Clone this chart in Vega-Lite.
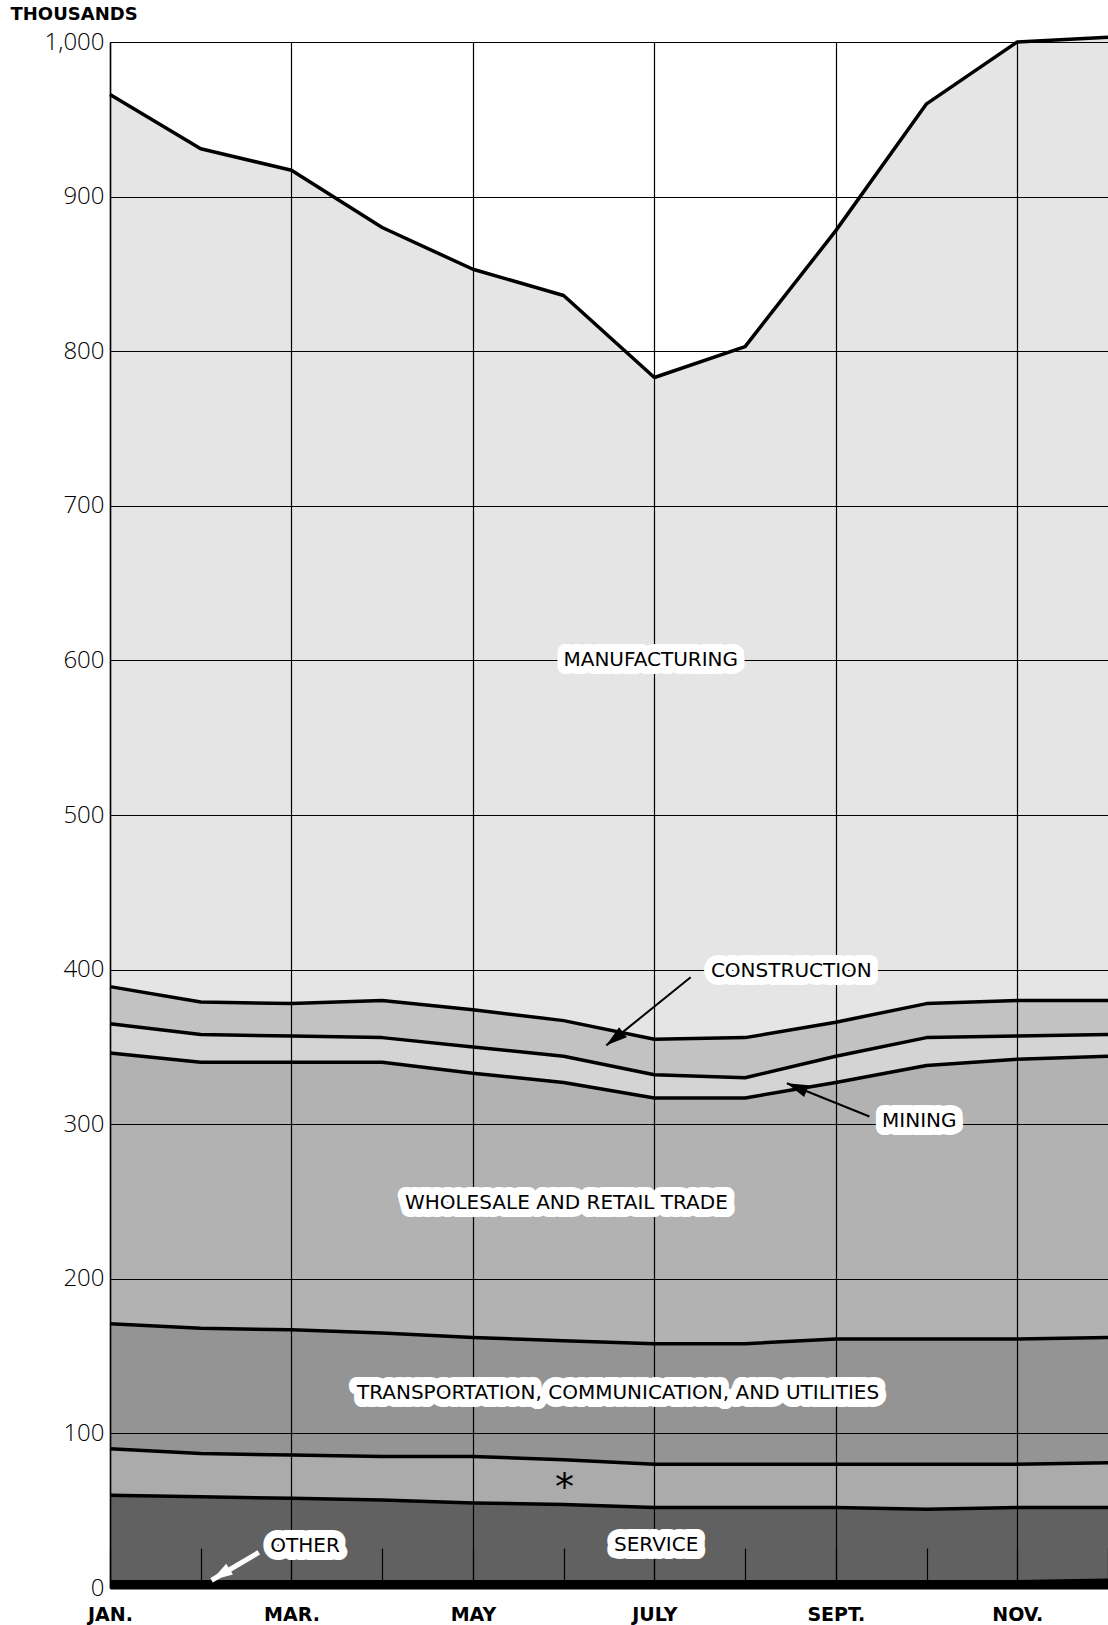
{
"$schema": "https://vega.github.io/schema/vega-lite/v6.json",
"width": 998, "height": 1546,
"autosize": {"type": "none"},
"padding": {"left": 110, "top": 42, "right": 0, "bottom": 37},
"background": "white",
"config": {"view": {"stroke": null}},
"datasets": {
"emp": [
{"m":0,"ind":"Other","v":4},{"m":0,"ind":"Service","v":56},{"m":0,"ind":"*","v":30},{"m":0,"ind":"Transportation","v":81},{"m":0,"ind":"Trade","v":175},{"m":0,"ind":"Mining","v":19},{"m":0,"ind":"Construction","v":24},{"m":0,"ind":"Manufacturing","v":577},
{"m":1,"ind":"Other","v":4},{"m":1,"ind":"Service","v":55},{"m":1,"ind":"*","v":28},{"m":1,"ind":"Transportation","v":81},{"m":1,"ind":"Trade","v":172},{"m":1,"ind":"Mining","v":18},{"m":1,"ind":"Construction","v":21},{"m":1,"ind":"Manufacturing","v":552},
{"m":2,"ind":"Other","v":4},{"m":2,"ind":"Service","v":54},{"m":2,"ind":"*","v":28},{"m":2,"ind":"Transportation","v":81},{"m":2,"ind":"Trade","v":173},{"m":2,"ind":"Mining","v":17},{"m":2,"ind":"Construction","v":21},{"m":2,"ind":"Manufacturing","v":539},
{"m":3,"ind":"Other","v":4},{"m":3,"ind":"Service","v":53},{"m":3,"ind":"*","v":28},{"m":3,"ind":"Transportation","v":80},{"m":3,"ind":"Trade","v":175},{"m":3,"ind":"Mining","v":16},{"m":3,"ind":"Construction","v":24},{"m":3,"ind":"Manufacturing","v":500},
{"m":4,"ind":"Other","v":4},{"m":4,"ind":"Service","v":51},{"m":4,"ind":"*","v":30},{"m":4,"ind":"Transportation","v":77},{"m":4,"ind":"Trade","v":171},{"m":4,"ind":"Mining","v":17},{"m":4,"ind":"Construction","v":24},{"m":4,"ind":"Manufacturing","v":479},
{"m":5,"ind":"Other","v":4},{"m":5,"ind":"Service","v":50},{"m":5,"ind":"*","v":29},{"m":5,"ind":"Transportation","v":77},{"m":5,"ind":"Trade","v":167},{"m":5,"ind":"Mining","v":17},{"m":5,"ind":"Construction","v":23},{"m":5,"ind":"Manufacturing","v":469},
{"m":6,"ind":"Other","v":4},{"m":6,"ind":"Service","v":48},{"m":6,"ind":"*","v":28},{"m":6,"ind":"Transportation","v":78},{"m":6,"ind":"Trade","v":159},{"m":6,"ind":"Mining","v":15},{"m":6,"ind":"Construction","v":23},{"m":6,"ind":"Manufacturing","v":428},
{"m":7,"ind":"Other","v":4},{"m":7,"ind":"Service","v":48},{"m":7,"ind":"*","v":28},{"m":7,"ind":"Transportation","v":78},{"m":7,"ind":"Trade","v":159},{"m":7,"ind":"Mining","v":13},{"m":7,"ind":"Construction","v":26},{"m":7,"ind":"Manufacturing","v":447},
{"m":8,"ind":"Other","v":4},{"m":8,"ind":"Service","v":48},{"m":8,"ind":"*","v":28},{"m":8,"ind":"Transportation","v":81},{"m":8,"ind":"Trade","v":166},{"m":8,"ind":"Mining","v":17},{"m":8,"ind":"Construction","v":22},{"m":8,"ind":"Manufacturing","v":512},
{"m":9,"ind":"Other","v":4},{"m":9,"ind":"Service","v":47},{"m":9,"ind":"*","v":29},{"m":9,"ind":"Transportation","v":81},{"m":9,"ind":"Trade","v":177},{"m":9,"ind":"Mining","v":18},{"m":9,"ind":"Construction","v":22},{"m":9,"ind":"Manufacturing","v":582},
{"m":10,"ind":"Other","v":4},{"m":10,"ind":"Service","v":48},{"m":10,"ind":"*","v":28},{"m":10,"ind":"Transportation","v":81},{"m":10,"ind":"Trade","v":181},{"m":10,"ind":"Mining","v":15},{"m":10,"ind":"Construction","v":23},{"m":10,"ind":"Manufacturing","v":620},
{"m":11,"ind":"Other","v":5},{"m":11,"ind":"Service","v":47},{"m":11,"ind":"*","v":29},{"m":11,"ind":"Transportation","v":81},{"m":11,"ind":"Trade","v":182},{"m":11,"ind":"Mining","v":14},{"m":11,"ind":"Construction","v":22},{"m":11,"ind":"Manufacturing","v":623}
],
"labels": [
{"txt":"MANUFACTURING","m":5.96,"v":600},
{"txt":"CONSTRUCTION","m":7.51,"v":399},
{"txt":"MINING","m":8.92,"v":302},
{"txt":"WHOLESALE AND RETAIL TRADE","m":5.03,"v":249},
{"txt":"TRANSPORTATION, COMMUNICATION, AND UTILITIES","m":5.6,"v":126},
{"txt":"*","m":5.01,"v":64},
{"txt":"SERVICE","m":6.02,"v":28},
{"txt":"OTHER","m":2.15,"v":27}
],
"arrows": [
{"a":"construction","m":6.4,"v":395,"m2":5.47,"v2":351},
{"a":"mining","m":8.37,"v":305,"m2":7.46,"v2":326.5},
{"a":"other","m":1.64,"v":23,"m2":1.12,"v2":5}
]
},
"layer": [
{
"data": {"name": "emp"},
"transform": [{"stack": "v", "groupby": ["m"], "as": ["v0", "v1"]}],
"mark": {"type": "area", "interpolate": "linear"},
"encoding": {
"x": {"field": "m", "type": "quantitative", "scale": {"domain": [0, 11], "nice": false, "zero": false},
 "axis": {"values": [0,1,2,3,4,5,6,7,8,9,10,11],
  "labelExpr": "['JAN.','','MAR.','','MAY','','JULY','','SEPT.','','NOV.',''][datum.value]",
  "title": null, "grid": true, "gridColor": "black", "gridWidth": 1.2,
  "gridOpacity": {"condition": {"test": "datum.value % 2 === 0", "value": 1}, "value": 0},
  "domainColor": "black", "domainWidth": 2, "tickColor": "black", "tickSize": -40, "tickWidth": 1.2,
  "labelFont": "DejaVu Sans", "labelFontWeight": "bold", "labelFontSize": 19, "labelColor": "black",
  "labelPadding": 57, "labelFlush": false, "labelOverlap": false}},
"y": {"field": "v1", "type": "quantitative", "scale": {"domain": [0, 1000], "nice": false},
 "axis": {"values": [0,100,200,300,400,500,600,700,800,900,1000], "format": ",d",
  "title": "THOUSANDS", "titleAngle": 0, "titleX": -100, "titleY": -23, "titleAlign": "left", "titleBaseline": "alphabetic",
  "titleFont": "DejaVu Sans", "titleFontWeight": "bold", "titleFontSize": 18, "titleColor": "black",
  "grid": true, "gridColor": "black", "gridWidth": 1.2, "ticks": false,
  "domainColor": "black", "domainWidth": 1.5,
  "labelFont": "Open Sans", "labelFontWeight": 300, "labelFontSize": 24, "labelColor": "black", "labelPadding": 6, "labelFlush": false}},
"y2": {"field": "v0"},
"color": {"field": "ind", "type": "nominal", "legend": null,
 "scale": {"domain": ["Other","Service","*","Transportation","Trade","Mining","Construction","Manufacturing"],
  "range": ["rgba(0,0,0,1)","rgba(0,0,0,0.62)","rgba(0,0,0,0.33)","rgba(0,0,0,0.42)","rgba(0,0,0,0.3)","rgba(0,0,0,0.17)","rgba(0,0,0,0.24)","rgba(0,0,0,0.1)"]}}
}
},
{
"data": {"name": "emp"},
"transform": [{"stack": "v", "groupby": ["m"], "as": ["v0", "v1"]}],
"mark": {"type": "line", "color": "black", "strokeWidth": 3.5, "strokeJoin": "round"},
"encoding": {
"x": {"field": "m", "type": "quantitative"},
"y": {"field": "v1", "type": "quantitative"},
"detail": {"field": "ind"}
}
},
{
"data": {"name": "arrows"},
"transform": [{"filter": "datum.a !== 'other'"}],
"mark": {"type": "rule", "color": "black", "strokeWidth": 2},
"encoding": {
"x": {"field": "m", "type": "quantitative"},
"y": {"field": "v", "type": "quantitative"},
"x2": {"field": "m2"}, "y2": {"field": "v2"}
}
},
{
"data": {"name": "arrows"},
"transform": [{"filter": "datum.a === 'other'"}],
"mark": {"type": "rule", "color": "white", "strokeWidth": 5},
"encoding": {
"x": {"field": "m", "type": "quantitative"},
"y": {"field": "v", "type": "quantitative"},
"x2": {"field": "m2"}, "y2": {"field": "v2"}
}
},
{
"data": {"name": "arrows"},
"transform": [{"filter": "datum.a === 'construction'"}],
"mark": {"type": "point", "shape": "M0,0L0.6,2L-0.6,2Z", "filled": true, "color": "black", "size": 450, "angle": 232, "opacity": 1},
"encoding": {
"x": {"field": "m2", "type": "quantitative"},
"y": {"field": "v2", "type": "quantitative"}
}
},
{
"data": {"name": "arrows"},
"transform": [{"filter": "datum.a === 'mining'"}],
"mark": {"type": "point", "shape": "M0,0L0.6,2L-0.6,2Z", "filled": true, "color": "black", "size": 450, "angle": 292, "opacity": 1},
"encoding": {
"x": {"field": "m2", "type": "quantitative"},
"y": {"field": "v2", "type": "quantitative"}
}
},
{
"data": {"name": "arrows"},
"transform": [{"filter": "datum.a === 'other'"}],
"mark": {"type": "point", "shape": "M0,0L0.6,2L-0.6,2Z", "filled": true, "color": "white", "size": 450, "angle": 238, "opacity": 1},
"encoding": {
"x": {"field": "m2", "type": "quantitative"},
"y": {"field": "v2", "type": "quantitative"}
}
},
{
"data": {"name": "labels"},
"transform": [{"filter": "datum.txt !== '*'"}],
"mark": {"type": "text", "font": "DejaVu Sans", "fontSize": 20, "fill": "white", "stroke": "white", "strokeWidth": 16, "strokeJoin": "round", "baseline": "middle", "align": "center"},
"encoding": {
"x": {"field": "m", "type": "quantitative"},
"y": {"field": "v", "type": "quantitative"},
"text": {"field": "txt"}
}
},
{
"data": {"name": "labels"},
"transform": [{"filter": "datum.txt !== '*'"}],
"mark": {"type": "text", "font": "DejaVu Sans", "fontSize": 20, "fill": "black", "baseline": "middle", "align": "center"},
"encoding": {
"x": {"field": "m", "type": "quantitative"},
"y": {"field": "v", "type": "quantitative"},
"text": {"field": "txt"}
}
},
{
"data": {"name": "labels"},
"transform": [{"filter": "datum.txt === '*'"}],
"mark": {"type": "text", "font": "DejaVu Sans", "fontSize": 38, "fill": "black", "baseline": "middle", "align": "center"},
"encoding": {
"x": {"field": "m", "type": "quantitative"},
"y": {"field": "v", "type": "quantitative"},
"text": {"field": "txt"}
}
}
]
}
